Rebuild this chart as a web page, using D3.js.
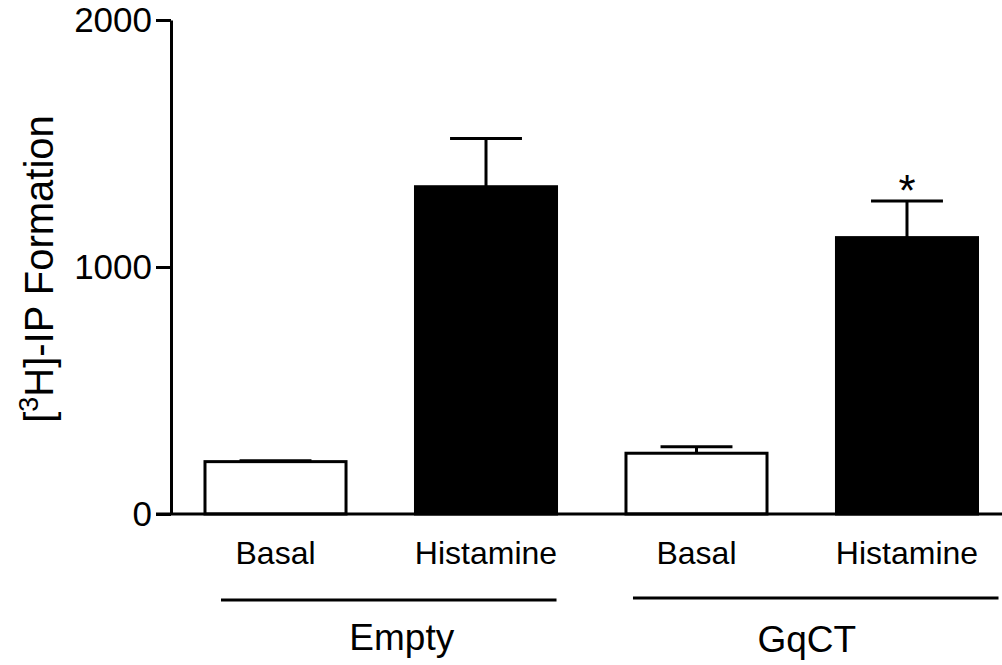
<!DOCTYPE html>
<html>
<head>
<meta charset="utf-8">
<script src="https://cdn.jsdelivr.net/npm/d3@7"></script>
<style>
  html, body { margin: 0; padding: 0; background: #fff; }
  svg { display: block; }
  text { font-family: "Liberation Sans", Arial, Helvetica, sans-serif; fill: #000; }
</style>
</head>
<body>
<svg id="chart" width="1002" height="665"></svg>
<script>
// Bar categories (treatment) and their group (construct)
const categories = ["Empty Basal", "Empty Histamine", "GqCT Basal", "GqCT Histamine"];
const barLabels = ["Basal", "Histamine", "Basal", "Histamine"];
const groups = ["Empty", "GqCT"];
const groupOf = ["Empty", "Empty", "GqCT", "GqCT"];
// Mean [3H]-IP formation and SEM
const means = [212, 1325, 246, 1119];
const sems = [4, 195, 26, 148];
const filled = [false, true, false, true];
const significant = [false, false, false, true];
const yTicks = [0, 1000, 2000];

const svg = d3.select("#chart");
const axisX = 171, baseY = 514, topY = 20;

const y = d3.scaleLinear().domain([0, 2000]).range([baseY, topY]);
const x = d3.scaleBand()
  .domain(categories)
  .range([axisX, 1011.5])
  .paddingInner(0.33)
  .paddingOuter(0.1615);

const bw = x.bandwidth();

// Error bars (upper only)
const err = svg.append("g").attr("stroke", "#000").attr("stroke-width", 3);
categories.forEach((c, i) => {
  const cx = x(c) + bw / 2;
  err.append("line")
    .attr("x1", cx).attr("x2", cx)
    .attr("y1", y(means[i])).attr("y2", y(means[i] + sems[i]));
  err.append("line")
    .attr("x1", cx - bw * 0.255).attr("x2", cx + bw * 0.255)
    .attr("y1", y(means[i] + sems[i])).attr("y2", y(means[i] + sems[i]));
});

// Bars
svg.append("g").selectAll("rect")
  .data(categories)
  .join("rect")
  .attr("x", d => x(d))
  .attr("y", (d, i) => y(means[i]))
  .attr("width", bw)
  .attr("height", (d, i) => baseY - y(means[i]))
  .attr("fill", (d, i) => filled[i] ? "#000" : "#fff")
  .attr("stroke", "#000")
  .attr("stroke-width", 3);

// Significance marks
categories.forEach((c, i) => {
  if (!significant[i]) return;
  svg.append("text")
    .attr("x", x(c) + bw / 2)
    .attr("y", y(means[i] + sems[i]) + 5)
    .attr("text-anchor", "middle")
    .attr("font-size", 44)
    .text("*");
});

// Y axis
const yAxis = d3.axisLeft(y).tickValues(yTicks).tickFormat(d3.format("d"))
  .tickSize(15).tickSizeOuter(0).tickPadding(4);
const gy = svg.append("g").attr("transform", `translate(${axisX},0)`).call(yAxis);
gy.select(".domain").attr("stroke", "#000").attr("stroke-width", 3);
gy.selectAll(".tick line").attr("stroke", "#000").attr("stroke-width", 3);
gy.selectAll(".tick text")
  .attr("font-size", 35)
  .attr("font-family", "'Liberation Sans', Arial, sans-serif")
  .attr("fill", "#000");

// X baseline
svg.append("line")
  .attr("x1", axisX - 15).attr("x2", 1002)
  .attr("y1", baseY).attr("y2", baseY)
  .attr("stroke", "#000").attr("stroke-width", 3);

// Category labels
svg.append("g").selectAll("text")
  .data(categories)
  .join("text")
  .attr("x", d => x(d) + bw / 2)
  .attr("y", 564)
  .attr("text-anchor", "middle")
  .attr("font-size", 32)
  .text((d, i) => barLabels[i]);

// Group brackets and labels
const groupSpec = {
  Empty: { left: 16, right: 0, lineY: 600, labelDx: 13, labelY: 650 },
  GqCT: { left: 7, right: 21, lineY: 598, labelDx: -9, labelY: 652 }
};
groups.forEach(g => {
  const members = categories.filter((c, i) => groupOf[i] === g);
  const s = groupSpec[g];
  const x0 = x(members[0]) + s.left;
  const x1 = x(members[members.length - 1]) + bw + s.right;
  svg.append("line")
    .attr("x1", x0).attr("x2", x1)
    .attr("y1", s.lineY).attr("y2", s.lineY)
    .attr("stroke", "#000").attr("stroke-width", 3);
  svg.append("text")
    .attr("x", (x0 + x1) / 2 + s.labelDx)
    .attr("y", s.labelY)
    .attr("text-anchor", "middle")
    .attr("font-size", 37)
    .text(g);
});

// Y axis title
const title = svg.append("text")
  .attr("transform", "translate(53,269) rotate(-90)")
  .attr("text-anchor", "middle")
  .attr("font-size", 40);
title.append("tspan").text("[");
title.append("tspan").attr("baseline-shift", "super").attr("font-size", 27).text("3");
title.append("tspan").text("H]-IP Formation");
</script>
</body>
</html>
